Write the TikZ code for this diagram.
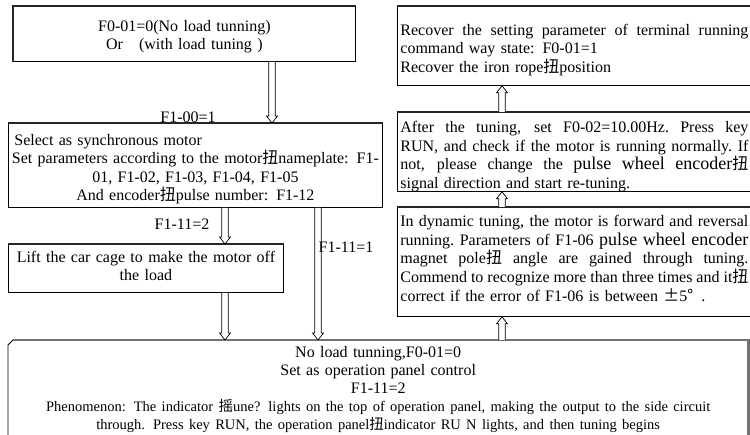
\documentclass[tikz,border=0pt]{standalone}
\usepackage{fontspec}
\setmainfont{Liberation Serif}
\newfontfamily\cjkfont{Noto Sans CJK SC}
\newcommand\cj[1]{{\cjkfont #1}}
\usetikzlibrary{calc}
\newcommand\bigf{\fontsize{18pt}{18pt}\selectfont}
\newcommand\jl[1]{{\spaceskip=0.25em plus 1fil minus 0.08em\relax\xspaceskip=\spaceskip\makebox[348pt][s]{#1}}}
\tikzset{
  txt/.style={font=\fontsize{16pt}{#1}\selectfont},
  txt/.default=18.7pt,
  box/.style={draw, line width=0.8pt, anchor=north west, inner ysep=0pt, inner xsep=4pt, align=center},
  rbox/.style={box, inner xsep=3pt, text width=348pt, align=left},
  harr/.style={draw, line width=0.7pt, fill=white},
  topedge/.style={line width=2pt, draw=black!85},
  grayedge/.style={line width=2.4pt, draw=black!55},
  lbl/.style={txt, inner sep=0pt}
}
\newcommand\hdown[2]{\draw[harr] let \p1=(#1), \p2=(#2) in (\x1-3.3pt,\y1) -- (\x1-3.3pt,\y2+7pt) -- (\x1-5.5pt,\y2+7pt) -- (\x1,\y2) -- (\x1+5.5pt,\y2+7pt) -- (\x1+3.3pt,\y2+7pt) -- (\x1+3.3pt,\y1);}
\newcommand\hup[2]{\draw[harr] let \p1=(#1), \p2=(#2) in (\x1-3.3pt,\y1) -- (\x1-3.3pt,\y2-7pt) -- (\x1-5.5pt,\y2-7pt) -- (\x1,\y2) -- (\x1+5.5pt,\y2-7pt) -- (\x1+3.3pt,\y2-7pt) -- (\x1+3.3pt,\y1);}
\begin{document}
\begin{tikzpicture}[x=1pt,y=-1pt]
\useasboundingbox (0,0) rectangle (750,435);
\clip (0,0) rectangle (750,435);
\fill[white] (0,0) rectangle (750,435);

% left column
\node[box, txt=18pt, text width=334pt, text height=25pt, text depth=30pt] (b1) at (13,6)
  {F0-01=0(No load tunning)\\Or~~~(with load tuning~)};
\draw[topedge] (b1.south west) -- (b1.north west) -- (b1.north east);

\node[box, txt=18.5pt, text width=366pt, text height=22pt, text depth=62pt] (b2) at (8,123)
  {\makebox[366pt][l]{\hspace{2pt}Select as synchronous motor}\\
   \makebox[366pt][c]{Set parameters according to the motor\cj{扭}nameplate: F1-}\\
   01, F1-02, F1-03, F1-04, F1-05\\
   And encoder\cj{扭}pulse number: F1-12};
\draw[topedge] (b2.north west) -- (b2.north east);

\node[box, txt=18pt, text width=267pt, text height=18pt, text depth=30pt] (b3) at (8,244)
  {Lift the car cage to make the motor off\\the load};
\draw[topedge] (b3.north west) -- (b3.north east);

\node[txt=18pt, anchor=north west, inner ysep=0pt, inner xsep=5pt, text width=730pt, text height=17pt, text depth=81pt, align=center] (b4) at (8,340)
  {No load tunning,F0-01=0\\
   Set as operation panel control\\
   F1-11=2\\
   \makebox[730pt][c]{\fontsize{14.5pt}{18pt}\selectfont Phenomenon: The indicator \cj{摇}une? lights on the top of operation panel, making the output to the side circuit}\\
   \makebox[730pt][c]{\fontsize{14.5pt}{18pt}\selectfont through. Press key RUN, the operation panel\cj{扭}indicator RU N lights, and then tuning begins}};
\draw[line width=0.8pt] (b4.south west) -- ($(b4.north west)+(0,5)$) -- ($(b4.north west)+(5,0)$);
\draw[grayedge] ($(b4.north west)+(5,0)$) -- (b4.north east) -- (b4.south east);

% right column
\node[rbox, txt=18.5pt, text height=29pt, text depth=50pt] (r1) at (397,6)
  {\jl{Recover the setting parameter of terminal running}\\
   command way state: F0-01=1\\
   Recover the iron rope\cj{扭}position};
\draw[topedge] (r1.north west) -- (r1.north east);

\node[rbox, txt=18.7pt, text height=20pt, text depth=59pt] (r2) at (397,112)
  {\jl{After the tuning, set F0-02=10.00Hz. Press key}\\
   \jl{RUN, and check if the motor is running normally. If}\\
   \jl{not, please change the {\bigf pulse wheel encoder}\cj{扭}}\\
   signal direction and start re-tuning.};
\draw[topedge] (r2.north west) -- (r2.north east);

\node[rbox, txt=18.75pt, text height=19pt, text depth=90pt] (r3) at (397,207)
  {\jl{In dynamic tuning, the motor is forward and reversal}\\
   \jl{running. Parameters of F1-06 {\bigf pulse wheel encoder}}\\
   \jl{magnet pole\cj{扭} angle are gained through tuning.}\\
   \jl{Commend to recognize more than three times and it\cj{扭}}\\
   correct if the error of F1-06 is between \makebox[16pt]{\cj{±}}5\makebox[14pt][l]{\cj{°}}.};
\draw[topedge] (r3.north west) -- (r3.north east);

% arrow x positions
\coordinate (xa) at (272,0);
\coordinate (xb) at (225,0);
\coordinate (xc) at (318,0);
\coordinate (xd) at (502,0);

\hdown{b1.south -| xa}{b2.north -| xa}
\hdown{b2.south -| xb}{b3.north -| xb}
\hdown{b3.south -| xb}{b4.north -| xb}
\hdown{b2.south -| xc}{b4.north -| xc}
\hup{b4.north -| xd}{r3.south -| xd}
\hup{r3.north -| xd}{r2.south -| xd}
\hup{r2.north -| xd}{r1.south -| xd}

% labels
\node[lbl, anchor=base] (l1) at (188,123) {F1-00=1};
\node[lbl] (l2) at (182,224) {F1-11=2};
\node[lbl] (l3) at (346,247) {F1-11=1};
\end{tikzpicture}
\end{document}
